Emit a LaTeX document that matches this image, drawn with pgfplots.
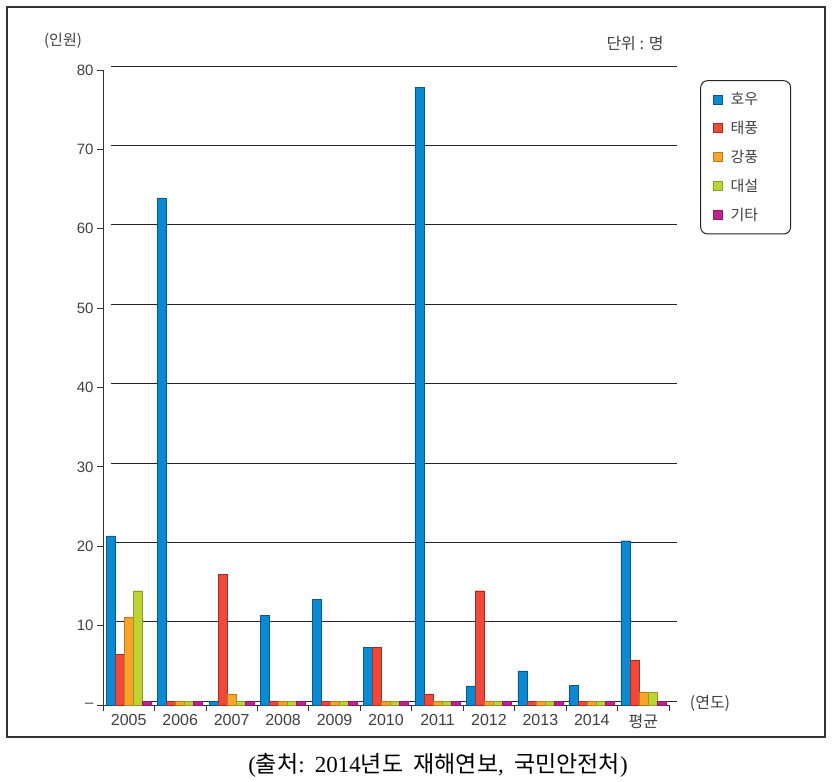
\documentclass[border=0pt]{standalone}
\usepackage{pgfplots}
\usepackage{pgfplotstable}
\pgfplotsset{compat=1.18}
\usepackage{fontspec}
\setmainfont{Liberation Sans}
\newfontfamily\kr{Noto Sans CJK KR}
\newfontfamily\serif{Liberation Serif}
\definecolor{cHo}{HTML}{0B8AD4}
\definecolor{cTae}{HTML}{F2483A}
\definecolor{cGang}{HTML}{F9A328}
\definecolor{cDae}{HTML}{BCD431}
\definecolor{cGi}{HTML}{C0228C}
\definecolor{txt}{HTML}{404040}
\pgfplotstableread{
year ho tae gang dae gi
0 21.3 6.4 11.1 14.4 0.5
1 63.9 0.5 0.5 0.5 0.5
2 0.5 16.5 1.4 0.5 0.5
3 11.3 0.5 0.5 0.5 0.5
4 13.3 0.5 0.5 0.5 0.5
5 7.3 7.3 0.5 0.5 0.5
6 77.8 1.4 0.5 0.5 0.5
7 2.4 14.4 0.5 0.5 0.5
8 4.3 0.5 0.5 0.5 0.5
9 2.5 0.5 0.5 0.5 0.5
10 20.7 5.7 1.6 1.6 0.5
}\data
\newcommand{\legent}[1]{\makebox[50pt][l]{#1}}
\begin{document}
\begin{tikzpicture}[x=1pt,y=1pt]
\path (0,0) rectangle (833,-782);
\draw[line width=1.2pt, black!80] (7,-7) rectangle (825,-737);
\begin{axis}[at={(103pt,-705pt)}, anchor=south west, scale only axis,
  width=566pt, height=635pt,
  xmin=-0.5, xmax=10.5, ymin=0, ymax=80,
  ybar=0pt, bar width=9pt,
  axis x line=bottom, axis y line=left,
  axis line style={-, black!80, line width=0.8pt},
  xtick={-0.5,0.5,...,10.5}, x tick label as interval,
  xticklabels={2005,2006,2007,2008,2009,2010,2011,2012,2013,2014,{\kr 평균}},
  ytick={0,10,...,80},
  yticklabels={--,10,20,30,40,50,60,70,80},
  tick align=outside, major tick length=6pt,
  tick style={black!80, line width=0.8pt},
  tick label style={font=\fontsize{15}{15}\selectfont, text=txt},
  x tick label style={font=\fontsize{16}{16}\selectfont},
  ymajorgrids,
  major grid style={black!85, line width=0.6pt, xshift=8pt, yshift=4pt},
  legend style={at={(1.055,0.984)}, anchor=north west, draw=black!85,
    line width=1pt, rounded corners=7pt, inner xsep=8pt, inner ysep=10pt,
    font=\kr\fontsize{15}{15}\selectfont, text=txt, row sep=11pt},
  legend cell align=left,
  legend image code/.code={\path[draw=none,fill=none] (0pt,0pt) -- (20pt,0pt);\fill[#1, sharp corners] (5pt,-4.5pt) rectangle (14pt,4.5pt);},
]
\addplot[fill=cHo, draw=cHo!65!black] table[x=year,y=ho]{\data};
\addplot[fill=cTae, draw=cTae!65!black] table[x=year,y=tae]{\data};
\addplot[fill=cGang, draw=cGang!75!black] table[x=year,y=gang]{\data};
\addplot[fill=cDae, draw=cDae!75!black] table[x=year,y=dae]{\data};
\addplot[fill=cGi, draw=cGi!75!black] table[x=year,y=gi]{\data};
\legend{\legent{호우},\legent{태풍},\legent{강풍},\legent{대설},\legent{기타}}
\end{axis}
\node[font=\kr\fontsize{15}{15}\selectfont, text=txt] at (63,-41) {(인원)};
\node[font=\kr\fontsize{16}{16}\selectfont, text=txt] at (635,-44) {단위 : 명};
\node[font=\kr\fontsize{16}{16}\selectfont, text=txt] at (710,-703) {(연도)};
\node[font=\kr\fontsize{23}{23}\selectfont] at (438,-765) {{\serif(}출처{\serif:}\ \ {\serif 2014}년도\ \ 재해연보{\serif,}\ \ 국민안전처{\serif)}};
\end{tikzpicture}
\end{document}
